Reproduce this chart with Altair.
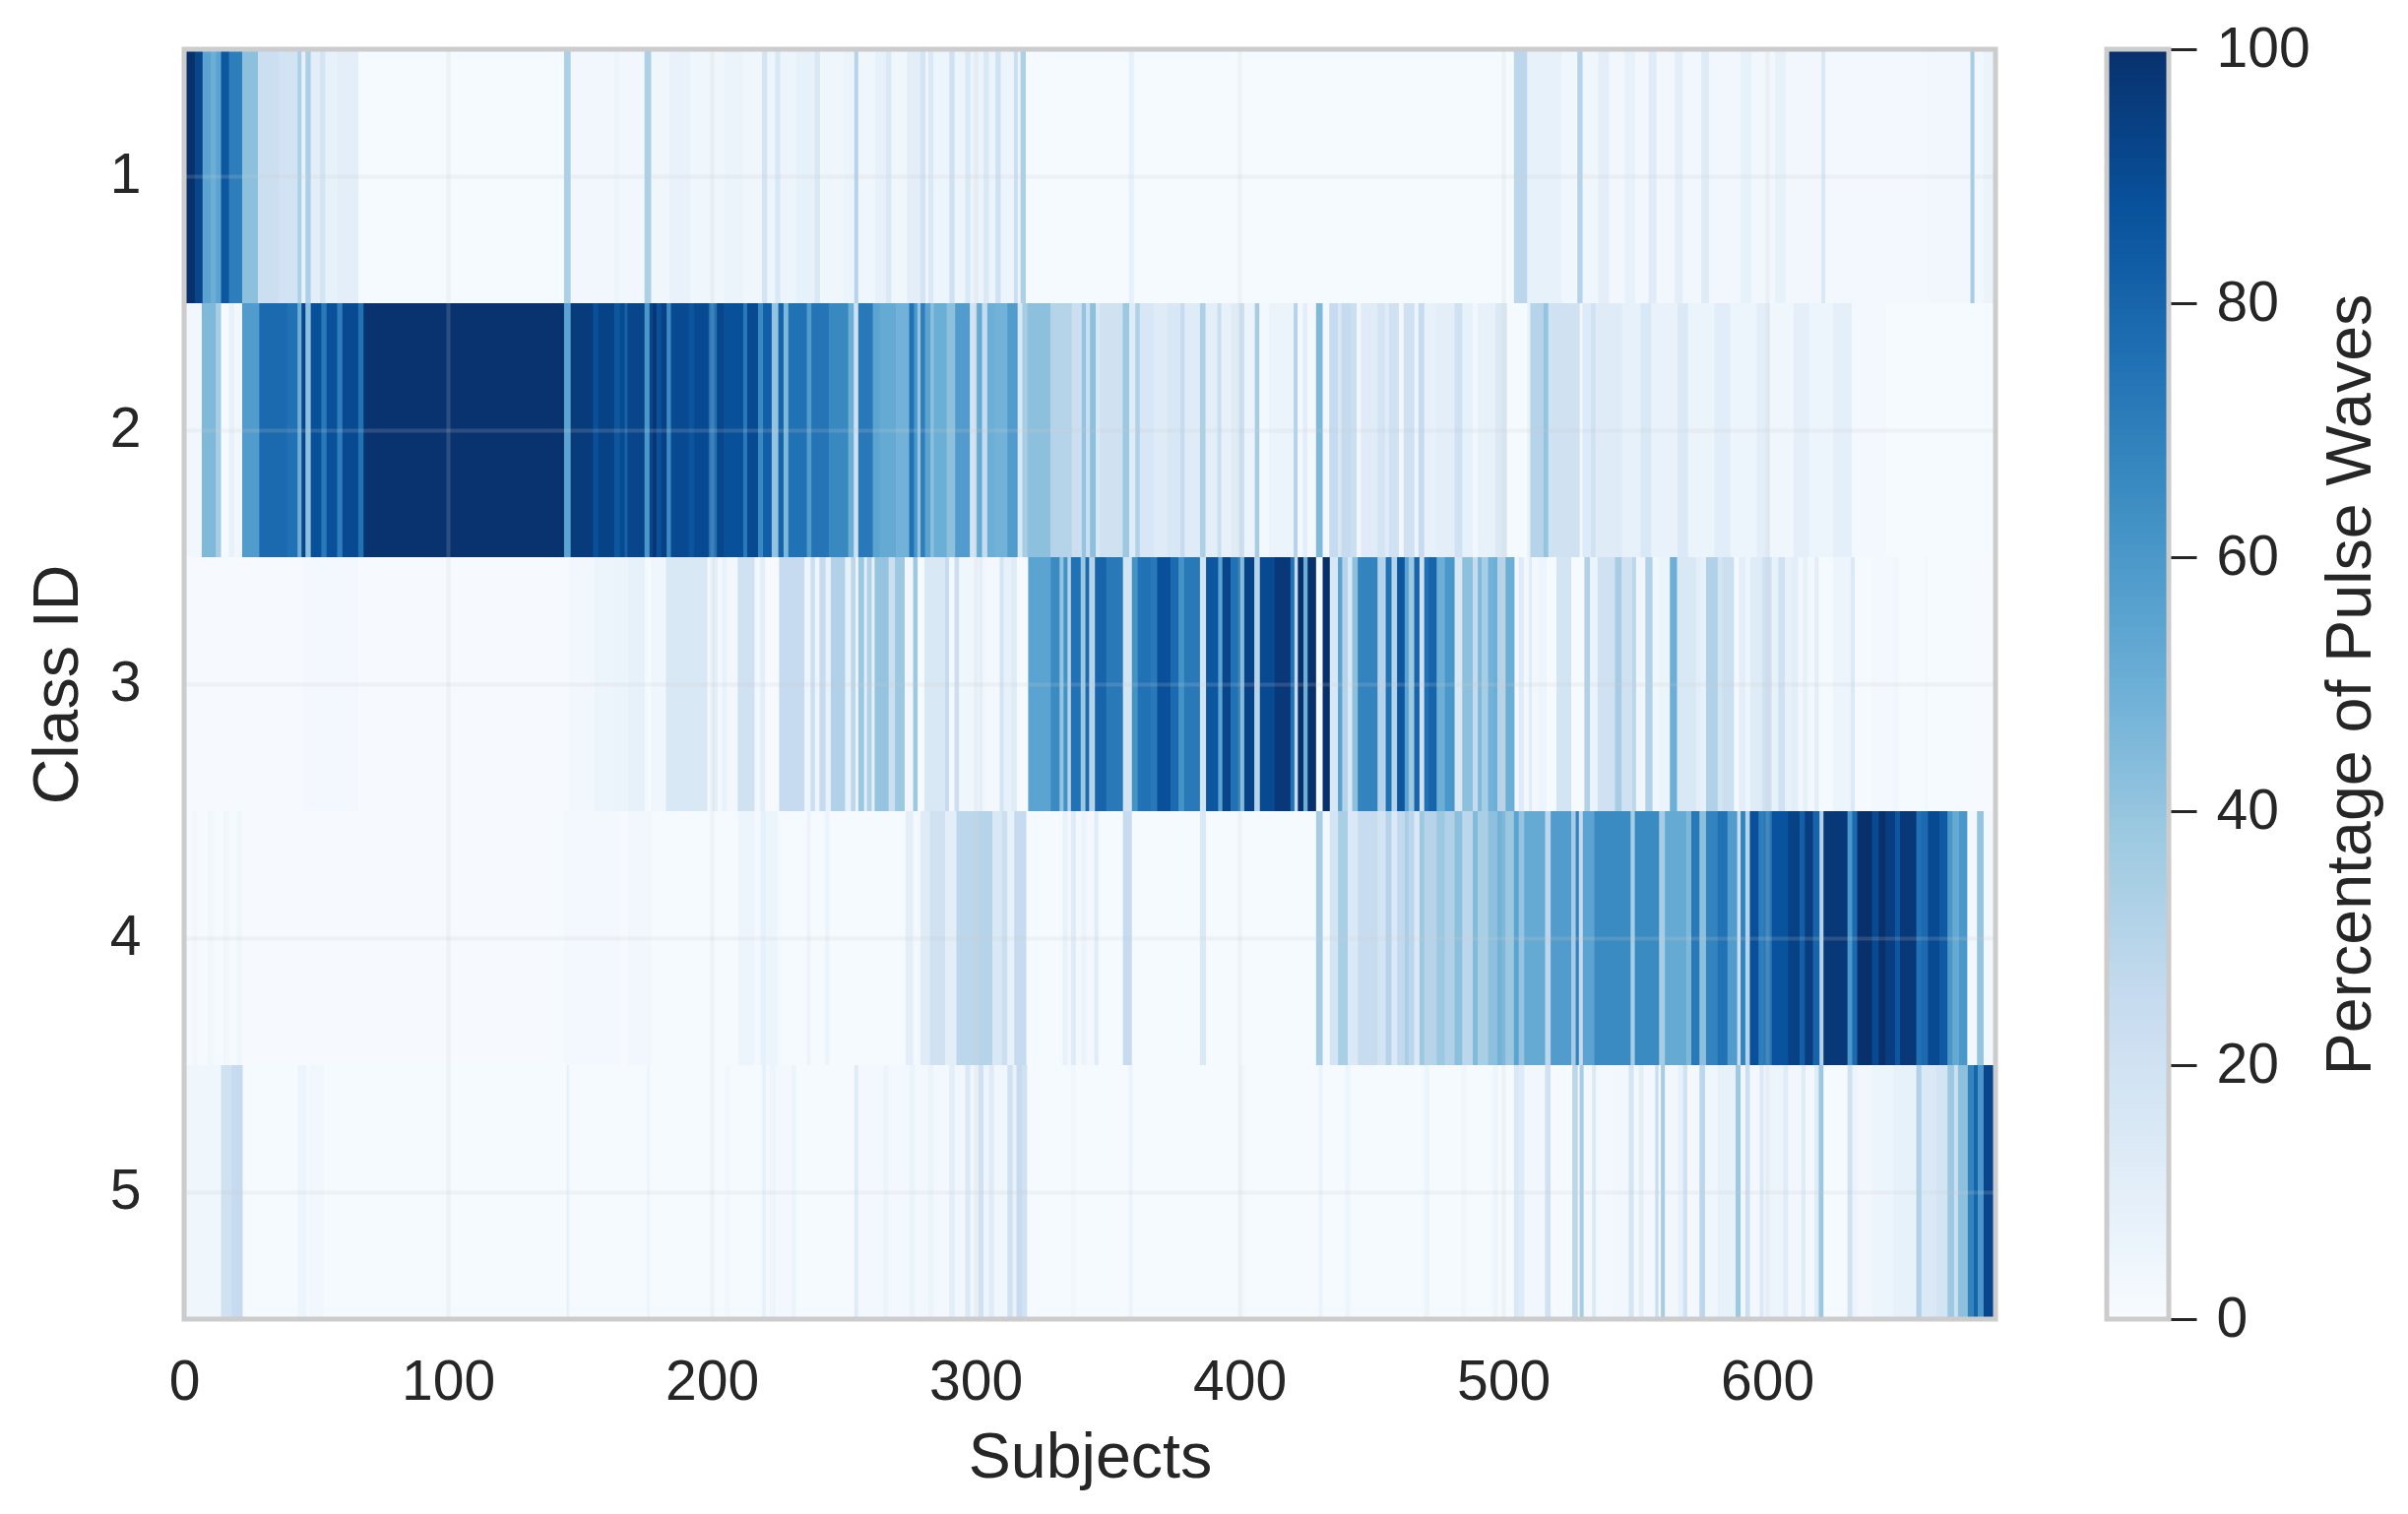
import altair as alt
import pandas as pd

FONT = "Liberation Sans"
INK = "#262626"
FRAME = "#cccccc"
BLUES = ["#f7fbff", "#deebf7", "#c6dbef", "#9ecae1", "#6baed6", "#4292c6", "#2171b5", "#08519c", "#08306b"]

N_SUBJECTS = 686
CLASS_IDS = ["1", "2", "3", "4", "5"]
X_TICKS = [0, 100, 200, 300, 400, 500, 600]
BAR_TICKS = [0, 20, 40, 60, 80, 100]

# (first subject of a run, percentage), class by class
CLASS_1 = [(0,100),(4,92),(7,55),(10,50),(12,55),(14,85),(17,70),(22,42),(28,22),(36,19),(43,33),(44.5,8),(46,33),(48,10),
 (51.5,18),(53.5,8),(58,10),(66,1),(144,33),(146.5,3),(163,5),(165,3),(174.5,33),(177,4),(184,7),(192,4),(205,6),(212,4),
 (219,18),(221,5),(224,15),(226,5),(232,8),(239,15),(241,4),(250,6),(254,30),(255.5,4),(262,8),(266,14),(268,4),(274,10),(279,18),
 (281,4),(282,14),(284,5),(290,20),(292,5),(296,15),(298,6),(303,15),(305,6),(307.5,20),(309.5,5),(314.5,22),(316,5),(317,33),(319,1),
 (358,8),(360,1),(430,1),(504,28),(509,8),(522,4),(528,30),(530,4),(536,10),(540,3),(546,8),(550,3),(555,12),(558,3),(565,10),(568,3),
 (575,12),(578,3),(590,8),(594,3),(603,8),(607,3),(620.5,15),(622,2),(660,3),(677,35),(678.5,3),(682,6)]
CLASS_2 = [(0,2),(1,3),(6.7,45),(12,35),(14,1),(17,8),(19,3),(22,58),(28.5,78),(39,75),(43,50),(44.5,92),(46,42),(48,88),(52,72),
 (54,88),(58,70),(60,90),(66,75),(68,99),(144,55),(146.5,96),(155,88),(157,93),(163,85),(165,90),(167,80),(168,92),(174.5,60),
 (176.4,92),(177.6,98),(179,88),(180.9,94),(182.9,65),(184.5,90),(191.3,86),(193.2,90),(198.8,75),(201.9,92),(204.4,88),(211.9,72),
 (213.4,90),(217.5,66),(219.4,82),(222.7,40),(225.2,80),(227.2,45),(229,75),(236,58),(237.7,74),(244.3,66),(251.7,50),(253.8,20),
 (255.5,72),(261,55),(263.6,52),(269.8,48),(274.8,75),(276.6,60),(277.9,40),(279.1,70),(280.8,55),(282.9,42),(284.1,50),(289,42),
 (292.2,58),(297.8,18),(300.3,52),(302.4,25),(304.4,50),(307.2,48),(312,58),(315.9,15),(317.7,35),(319.6,42),(328.3,30),(336.4,22),
 (340.2,40),(341.8,22),(343.3,42),(345.5,15),(347,20),(355.7,38),(358.2,12),(360.5,32),(362.2,16),(367.6,12),(372.6,16),(377.6,25),
 (379.2,12),(385,33),(387.1,10),(391.6,22),(393.1,8),(396.9,12),(400,22),(401.8,6),(405.8,35),(407.5,2),(411.2,6),(420.5,30),(422,2),
 (424,10),(425.7,2),(429,45),(431.5,2),(434,25),(437.3,15),(438.6,25),(442.3,22),(444.4,3),(446,12),(452.3,18),(455.1,12),(456.6,20),
 (460.4,3),(462.2,20),(466.3,5),(467.8,25),(470,8),(474.7,10),(481.5,20),(484.4,8),(488.4,3),(490.3,8),(497,14),(501.4,1),(509,8),
 (510.2,30),(515.2,40),(517,20),(528.9,3),(530,13),(533.2,20),(534.9,12),(545,8),(552,15),(556,7),(566,14),(570,6),(580,11),(586,5),
 (596,10),(601,4),(610,9),(616,5),(625,9),(632,2),(645,1)]
CLASS_3 = [(0,0.5),(45,2),(66,0.5),(144,1),(146.2,3),(155.5,5),(162.6,6),(168.3,8),(174.7,1),(176.9,4),(182.6,15),(198.3,2),(200.2,10),
 (202.2,2),(204,8),(205.5,3),(209.8,20),(216.2,3),(218.4,10),(220.2,0.5),(225.5,25),(235.1,5),(237.4,22),(239.1,5),(240.8,25),(243.1,8),
 (245.1,32),(250.5,8),(252.7,28),(254.5,3),(255.5,38),(257.7,10),(258.8,32),(260.6,8),(261.7,40),(267,22),(269.4,38),(273.1,3),
 (276.3,38),(278,1),(280.6,15),(288.4,25),(289.9,2),(292,22),(293.7,4),(301.3,10),(302.7,3),(304.9,2),(309.1,18),(310.6,8),(313.5,12),
 (315.6,1),(319.9,55),(328.4,65),(331.8,40),(333.3,62),(334.8,30),(336.1,75),(339.8,38),(341.6,78),(343,30),(345.2,80),(349.5,72),
 (355.8,18),(359.2,62),(361.4,75),(366.3,72),(368.8,88),(373.8,78),(376.9,62),(379,72),(385,18),(387.3,85),(391.9,55),(393.5,92),
 (396.6,75),(400.3,45),(401.8,93),(405.6,30),(407.7,90),(413.3,97),(419.3,75),(420.8,25),(422.1,100),(424.2,50),(425.8,100),(429,1),
 (431.5,100),(434.2,15),(437.3,55),(438.9,30),(441,15),(442.7,42),(444.8,68),(452.3,30),(455.4,75),(457.6,30),(459.7,85),(462.6,55),
 (464.1,38),(466.2,80),(468.2,20),(470,75),(471.8,80),(474.7,50),(477.8,60),(481.5,15),(484.4,42),(488.4,25),(490.3,45),(491.7,35),
 (494.2,48),(496.2,50),(497.7,30),(500.8,50),(504.2,2),(505.8,12),(507.7,3),(509.6,12),(510.8,3),(513.3,5),(516.4,1),(520.1,18),
 (525.7,1),(530.7,32),(532.8,6),(535.7,20),(542.3,35),(544.8,20),(548.8,28),(550.3,4),(553.8,32),(556.5,4),(558.8,6),(563.1,50),
 (565.8,15),(573,10),(574.9,8),(576.8,32),(581.2,18),(583,22),(587.4,2),(589.3,10),(591.7,5),(593.6,12),(598,20),(601.7,8),(604.2,20),
 (606.7,8),(609.2,10),(611.7,3),(613.5,8),(615.4,2),(617.9,10),(619.5,1),(624.8,5),(631.6,14),(633.2,1),(639.7,2),(648.4,4),(649.7,1),
 (659.6,3),(660.9,1),(675.8,0.5)]
CLASS_4 = [(0,0.5),(3,3),(5,1),(9,4),(11,1),(15,4),(17,1),(20,4),(22,0.5),(139,1),(144,2),(165.5,0.5),(168.3,3),(176.9,1),(210,5),(216.2,2),
 (218.4,8),(220.5,5),(225,1),(236,6),(237.5,1),(243,6),(244.5,1),(273.4,10),(276.3,2),(279.1,12),(282.7,20),(288.4,10),(292.7,28),
 (301.3,30),(306.3,15),(309.9,22),(312,8),(314.6,25),(319.2,1),(333,8),(334.8,2),(336.1,12),(338,2),(340,6),(342,2),(345,12),(346.5,1),
 (355.8,25),(359.2,1),(385,14),(387.3,1),(429,35),(431.5,2),(434.2,18),(437.3,34),(441,14),(444.8,24),(452.3,18),(455.4,30),(457.6,14),
 (459.7,26),(462.6,34),(464.1,28),(466.2,14),(468.2,38),(470,30),(474.7,38),(477.8,32),(481.5,42),(484.4,28),(488.4,44),(490.3,34),
 (494.2,42),(497.7,48),(500.8,38),(504,55),(505.8,40),(507.9,52),(515.8,28),(517.9,58),(525.7,35),(527.4,68),(528.6,25),(530.1,55),
 (534.5,65),(548.2,35),(549.8,65),(559,35),(561.2,52),(569.3,45),(571.2,72),(574.3,42),(576.8,68),(581.2,75),(584.9,58),(588.6,22),
 (589.9,68),(591.7,30),(593.4,88),(596.7,70),(598.6,72),(601.7,87),(607.9,93),(612.3,82),(614.2,95),(617.3,80),(619.8,30),(621.3,97),
 (630.4,60),(632.2,78),(634.1,100),(639.7,90),(642.2,100),(644.7,95),(648.4,85),(650.3,97),(656.5,75),(658.4,78),(660.9,90),(665.2,84),
 (668.3,60),(670.2,52),(672.7,60),(675.8,3),(679.5,40),(682,2)]
CLASS_5 = [(0,4),(14,20),(18,25),(22.2,1),(43,5),(46.5,1),(47.5,3),(53,1),(145,8),(146,1),(175.5,6),(176.5,1),(205,3),(207,1),(219,8),
 (220.5,2),(222,5),(224,2),(230,5),(232,1),(254,12),(255.5,2),(265,5),(267,2),(275,6),(277,2),(282,6),(284,2),(290,10),(292,3),(296,14),
 (298,4),(301,20),(303,5),(305,12),(307,4),(312,20),(314,8),(315.5,25),(317.5,20),(319.5,1),(336,3),(338,1),(358,6),(359.5,1),(400,3),(402,1),
 (430,6),(431.5,1),(440,5),(442,1),(470,5),(472,1),(484,4),(486,1),(496,5),(498,1),(504,15),(505.8,12),(507.9,3),(515.8,20),(517.9,1),
 (526.1,28),(528.2,2),(528.9,35),(530.4,2),(533.6,14),(535.1,2),(541.3,3),(547.5,18),(549.4,2),(551.3,10),(553.1,2),(557.5,22),(558.8,2),
 (559.7,35),(561.2,3),(566.2,8),(568.1,20),(569.7,2),(574.3,28),(576.4,4),(581.2,8),(588,38),(589.9,3),(591.7,22),(593.4,2),(597.1,14),
 (598.6,5),(606.1,12),(607.9,3),(612.9,12),(614.5,2),(617.9,12),(619.5,38),(621.3,1),(630.4,20),(632.2,6),(634.1,3),(639.7,5),(647.8,8),
 (656.5,32),(658.4,14),(664,18),(668.3,38),(670.8,22),(672.3,42),(676,68),(678.3,80),(679.8,60),(682,92)]

ROWS = dict(zip(CLASS_IDS, [CLASS_1, CLASS_2, CLASS_3, CLASS_4, CLASS_5]))

records = []
for cid, runs in ROWS.items():
    for i, (start, value) in enumerate(runs):
        end = runs[i + 1][0] if i + 1 < len(runs) else N_SUBJECTS
        # a hair of overlap hides antialiasing seams between neighbouring runs
        records.append({"cid": cid, "start": start, "end": min(end + 0.25, N_SUBJECTS), "pct": value})
cells = pd.DataFrame(records)

bar_steps = [v / 2 for v in range(0, 200)]
bar = pd.DataFrame({"lo": bar_steps, "hi": [min(v + 0.8, 100) for v in bar_steps], "pct": bar_steps})
one = pd.DataFrame({"k": [0]})

W, H, BW = 1840, 1290, 63
color = alt.Color("pct:Q", legend=None, scale=alt.Scale(domain=[0, 100], range=BLUES, interpolate="rgb"))

heat = alt.Chart(cells).mark_rect(clip=True).encode(
    x=alt.X("start:Q", title="Subjects",
            scale=alt.Scale(domain=[0, 686.5], nice=False, zero=False),
            axis=alt.Axis(values=X_TICKS, format="d", grid=True, gridColor=FRAME, gridOpacity=0.18, gridWidth=4,
                          ticks=False, domain=False, labelPadding=36, titlePadding=17, zindex=1, labelFlush=False,
                          labelOverlap=False)),
    x2="end:Q",
    y=alt.Y("cid:N", title="Class ID", sort=CLASS_IDS,
            scale=alt.Scale(domain=CLASS_IDS, paddingInner=0, paddingOuter=0),
            axis=alt.Axis(grid=True, gridColor=FRAME, gridOpacity=0.18, gridWidth=4, ticks=False, domain=False,
                          labelAngle=0, labelPadding=44, titlePadding=19, zindex=1)),
    color=color,
)
frame = alt.Chart(one).mark_rect(filled=False, stroke=FRAME, strokeWidth=5).encode(
    x=alt.value(0), x2=alt.value(W), y=alt.value(0), y2=alt.value(H))
left = alt.layer(heat, frame).properties(width=W, height=H)

bar_rect = alt.Chart(bar).mark_rect().encode(
    x=alt.value(0), x2=alt.value(BW),
    y=alt.Y("lo:Q", title="Percentage of Pulse Waves",
            scale=alt.Scale(domain=[0, 100], nice=False),
            axis=alt.Axis(orient="right", values=BAR_TICKS, grid=False, domain=False, ticks=True, tickSize=28,
                          tickWidth=3, tickColor=INK, labelPadding=20, titlePadding=10, format="d",
                          titleAngle=270, titleBaseline="top")),
    y2="hi:Q",
    color=color,
)
bar_frame = alt.Chart(one).mark_rect(filled=False, stroke=FRAME, strokeWidth=5).encode(
    x=alt.value(0), x2=alt.value(BW), y=alt.value(0), y2=alt.value(H))
right = alt.layer(bar_rect, bar_frame).properties(width=BW, height=H)

chart = alt.hconcat(left, right, spacing=107).resolve_scale(color="independent").properties(
    padding={"left": 18, "top": 13, "right": 14, "bottom": 5}, background="white"
).configure_view(stroke=None).configure_axis(
    labelFont=FONT, titleFont=FONT, labelFontSize=57, titleFontSize=64.5, labelColor=INK, titleColor=INK,
    titleFontWeight="normal",
)

chart.save("out.html", embed_options={"renderer": "svg", "actions": False})
